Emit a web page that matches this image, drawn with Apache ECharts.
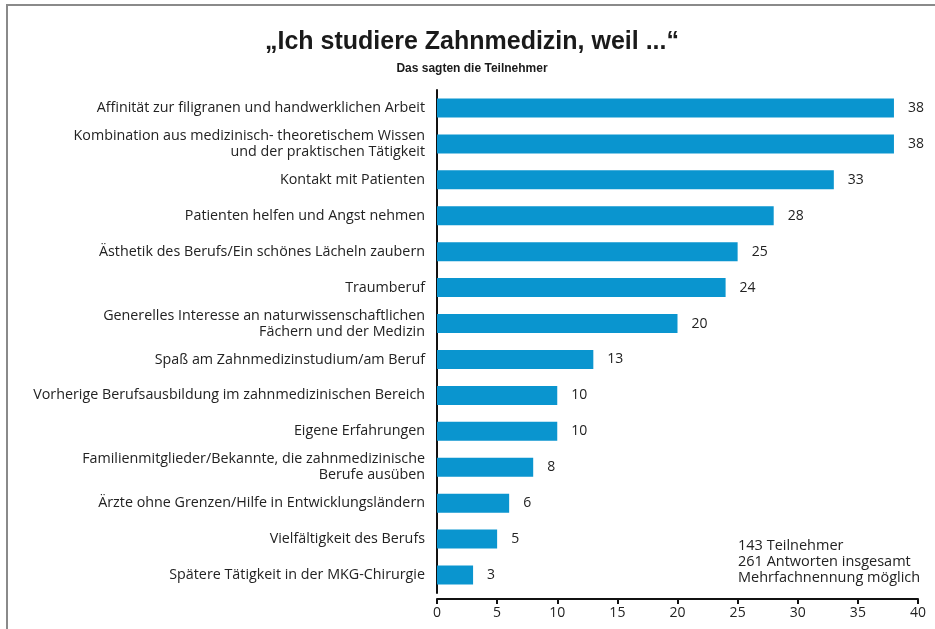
<!DOCTYPE html>
<html>
<head>
<meta charset="utf-8">
<script src="https://cdn.jsdelivr.net/npm/echarts@6/dist/echarts.min.js"></script>
<style>
  html, body { margin: 0; padding: 0; background: #fff; }
  #main { width: 935px; height: 629px; }
</style>
</head>
<body>
<div id="main"></div>
<script>
const categories = [
  'Affinität zur filigranen und handwerklichen Arbeit',
  'Kombination aus medizinisch- theoretischem Wissen\nund der praktischen Tätigkeit',
  'Kontakt mit Patienten',
  'Patienten helfen und Angst nehmen',
  'Ästhetik des Berufs/Ein schönes Lächeln zaubern',
  'Traumberuf',
  'Generelles Interesse an naturwissenschaftlichen\nFächern und der Medizin',
  'Spaß am Zahnmedizinstudium/am Beruf',
  'Vorherige Berufsausbildung im zahnmedizinischen Bereich',
  'Eigene Erfahrungen',
  'Familienmitglieder/Bekannte, die zahnmedizinische\nBerufe ausüben',
  'Ärzte ohne Grenzen/Hilfe in Entwicklungsländern',
  'Vielfältigkeit des Berufs',
  'Spätere Tätigkeit in der MKG-Chirurgie'
];
const values = [38, 38, 33, 28, 25, 24, 20, 13, 10, 10, 8, 6, 5, 3];
const notes = ['143 Teilnehmer', '261 Antworten insgesamt', 'Mehrfachnennung möglich'];

const font = '"Open Sans", sans-serif';
const chart = echarts.init(document.getElementById('main'));

chart.setOption({
  backgroundColor: '#fff',
  animation: false,
  title: {
    text: '„Ich studiere Zahnmedizin, weil ...“',
    subtext: 'Das sagten die Teilnehmer',
    left: 467,
    textAlign: 'center',
    top: 25,
    itemGap: 8,
    textStyle: { fontFamily: '"Liberation Sans", sans-serif', fontWeight: 'bold', fontSize: 25, color: '#1a1a1a' },
    subtextStyle: { fontFamily: '"Liberation Sans", sans-serif', fontWeight: 'bold', fontSize: 12, color: '#1a1a1a' }
  },
  grid: { left: 437, right: 17, top: 90, bottom: 36 },
  xAxis: {
    type: 'value',
    min: 0,
    max: 40,
    interval: 5,
    offset: 6,
    axisLine: { show: true, lineStyle: { color: '#111', width: 2 } },
    axisTick: { show: true, length: 5, lineStyle: { color: '#111', width: 2 } },
    axisLabel: { fontFamily: font, fontSize: 14, color: '#222', margin: 7 },
    splitLine: { show: false }
  },
  yAxis: {
    type: 'category',
    inverse: true,
    data: categories,
    axisLine: { show: true, lineStyle: { color: '#111', width: 2 } },
    axisTick: { show: false },
    axisLabel: { fontFamily: font, fontSize: 14.3, color: '#222', margin: 12, lineHeight: 16, align: 'right' }
  },
  series: [{
    type: 'bar',
    data: values,
    barWidth: 19,
    itemStyle: { color: '#0a95cf' },
    label: {
      show: true,
      position: 'right',
      distance: 14,
      fontFamily: font,
      fontSize: 14,
      color: '#222'
    }
  }],
  graphic: [
    { type: 'line', shape: { x1: 7, y1: 5, x2: 7, y2: 629 }, style: { stroke: '#8a8a8a', lineWidth: 2 } },
    { type: 'line', shape: { x1: 6, y1: 5, x2: 935, y2: 5 }, style: { stroke: '#8a8a8a', lineWidth: 2 } },
    {
      type: 'text', left: 738, top: 538,
      style: { text: notes.join('\n'), fontFamily: font, fontSize: 14.5, lineHeight: 16, fill: '#222' }
    }
  ]
});
</script>
</body>
</html>
